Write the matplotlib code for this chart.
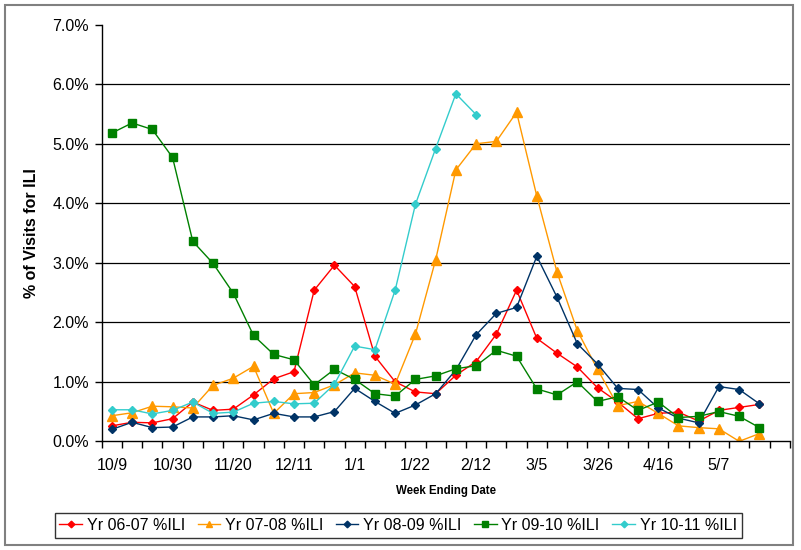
#!/usr/bin/env python3
"""Weekly % of visits for ILI, five flu seasons, plotted by week ending date."""

import numpy as np
import matplotlib
matplotlib.use("Agg")
import matplotlib.pyplot as plt
from matplotlib.patches import Rectangle

# Week ending dates (10/9 ... 5/28), labels shown every third week
weeks = ["10/9", "10/16", "10/23", "10/30", "11/6", "11/13", "11/20", "11/27",
         "12/4", "12/11", "12/18", "12/25", "1/1", "1/8", "1/15", "1/22",
         "1/29", "2/5", "2/12", "2/19", "2/26", "3/5", "3/12", "3/19", "3/26",
         "4/2", "4/9", "4/16", "4/23", "4/30", "5/7", "5/14", "5/21", "5/28"]

series_names = ["Yr 06-07 %ILI", "Yr 07-08 %ILI", "Yr 08-09 %ILI",
                "Yr 09-10 %ILI", "Yr 10-11 %ILI"]

ili_0607 = [0.26, 0.32, 0.31, 0.38, 0.66, 0.52, 0.54, 0.78, 1.05, 1.17, 2.54,
            2.96, 2.60, 1.43, 1.00, 0.83, 0.80, 1.11, 1.34, 1.80, 2.54, 1.73,
            1.48, 1.25, 0.90, 0.66, 0.38, 0.47, 0.49, 0.34, 0.52, 0.57, 0.62]
ili_0708 = [0.43, 0.48, 0.59, 0.58, 0.56, 0.94, 1.06, 1.26, 0.47, 0.80, 0.82,
            0.95, 1.15, 1.11, 0.96, 1.80, 3.05, 4.56, 5.00, 5.04, 5.53, 4.12,
            2.84, 1.86, 1.21, 0.60, 0.67, 0.47, 0.26, 0.23, 0.21, 0.00, 0.13]
ili_0809 = [0.20, 0.32, 0.23, 0.24, 0.41, 0.41, 0.43, 0.36, 0.47, 0.41, 0.41,
            0.50, 0.89, 0.67, 0.47, 0.61, 0.80, 1.20, 1.79, 2.15, 2.25, 3.11,
            2.42, 1.64, 1.30, 0.89, 0.87, 0.56, 0.39, 0.31, 0.92, 0.87, 0.63]
ili_0910 = [5.18, 5.35, 5.24, 4.77, 3.36, 2.99, 2.49, 1.78, 1.46, 1.37, 0.95,
            1.21, 1.04, 0.80, 0.76, 1.04, 1.10, 1.22, 1.27, 1.53, 1.43, 0.88,
            0.78, 1.00, 0.67, 0.75, 0.52, 0.66, 0.40, 0.42, 0.50, 0.42, 0.23]
ili_1011 = [0.53, 0.53, 0.46, 0.52, 0.66, 0.47, 0.49, 0.64, 0.67, 0.63, 0.64,
            0.96, 1.60, 1.54, 2.54, 3.98, 4.92, 5.84, 5.49]

FONT = "Liberation Sans"


def main():
    plt.rcParams["font.family"] = FONT

    fig = plt.figure(figsize=(8.01, 5.50), dpi=100)
    ax = fig.add_axes([0.127, 0.1976, 0.859, 0.7574])

    # outer chart border
    fig.patches.append(Rectangle((0.006, 0.009), 0.984, 0.982, transform=fig.transFigure,
                                 fill=False, edgecolor="#808080", linewidth=1.5))

    styles = [
        (ili_0607, "#FF0000", "D", 4.5),
        (ili_0708, "#FF9900", "^", 6.5),
        (ili_0809, "#003366", "D", 4.5),
        (ili_0910, "#008000", "s", 5.5),
        (ili_1011, "#33CCCC", "D", 4.5),
    ]
    for (vals, color, marker, ms), name in zip(styles, series_names):
        x = np.arange(len(vals))
        ax.plot(x, vals, color=color, marker=marker, markersize=ms, linewidth=1.0,
                markeredgecolor=color, label=name)

    ax.set_xlim(-0.5, len(weeks) - 0.5)
    ax.set_ylim(0, 7)

    # y axis
    ax.set_yticks(np.arange(0, 8, 1))
    ax.set_yticklabels([f"{v:.1f}%" for v in range(8)], fontsize=11.5)
    for v in range(1, 7):
        ax.axhline(v, color="black", linewidth=0.9, zorder=0.5)
    ax.tick_params(axis="y", direction="out", length=5, width=1, pad=4)

    # x axis: tick marks between categories, labels every third week
    ax.set_xticks(np.arange(-0.5, len(weeks), 1.0))
    ax.set_xticklabels([])
    ax.tick_params(axis="x", direction="out", length=5, width=1)
    label_idx = np.arange(0, 31, 3)
    for i in label_idx:
        ax.text(i, -0.04, weeks[i], transform=ax.get_xaxis_transform(),
                ha="center", va="top", fontsize=11.5)
    ax.text(0.5, -0.105, "Week Ending Date", transform=ax.transAxes, ha="center",
            va="top", fontsize=8.3, fontweight="bold")

    ax.set_ylabel("% of Visits for ILI", fontsize=11.5, fontweight="bold", labelpad=10)

    for side in ("top", "right"):
        ax.spines[side].set_visible(False)
    for side in ("left", "bottom"):
        ax.spines[side].set_color("black")
        ax.spines[side].set_linewidth(1.0)

    leg = fig.legend(loc="center", bbox_to_anchor=(0.497, 0.0445), ncol=5,
                     fontsize=11.5, frameon=True, fancybox=False, handlelength=1.4,
                     handletextpad=0.3, columnspacing=0.8, borderpad=0.3,
                     markerscale=0.75)
    leg.get_frame().set_edgecolor("black")
    leg.get_frame().set_linewidth(1.0)

    fig.savefig("out.png", dpi=100)


if __name__ == "__main__":
    main()
